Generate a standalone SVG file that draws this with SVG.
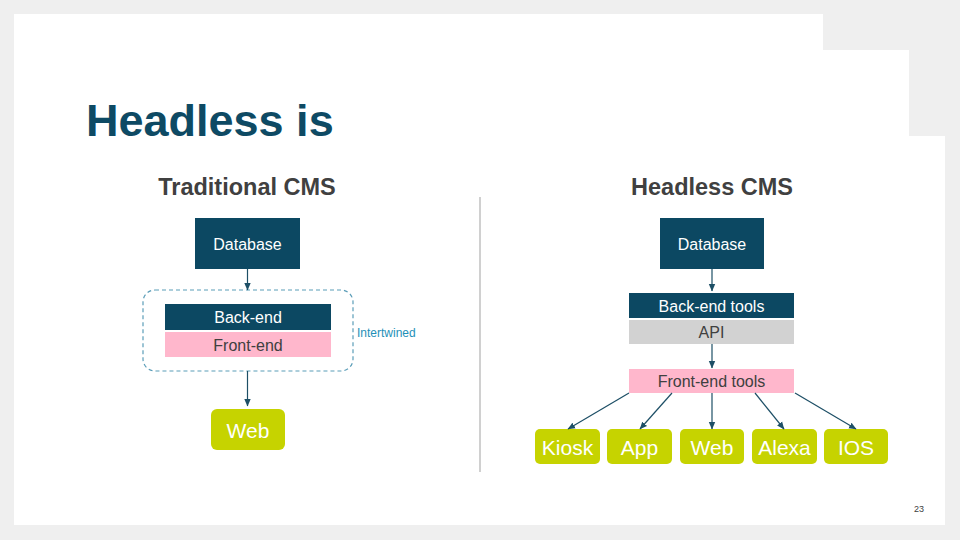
<svg xmlns="http://www.w3.org/2000/svg" width="960" height="540" viewBox="0 0 960 540">
<defs>
<marker id="arr" markerUnits="userSpaceOnUse" markerWidth="8" markerHeight="8" viewBox="0 0 8 8" refX="7" refY="4" orient="auto">
<path d="M0,0.8 L7.5,4 L0,7.2 Z" fill="#1d4f66"/>
</marker>
<style>
.t{font-family:"Liberation Sans",Arial,sans-serif}
.dark{fill:#0c4862}
.pink{fill:#ffb7cc}
.grey{fill:#d2d2d2}
.lime{fill:#c6d300}
.wt{fill:#ffffff;font-size:16px;text-anchor:middle}
.dt{fill:#404040;font-size:16px;text-anchor:middle}
.big{fill:#ffffff;font-size:21px;text-anchor:middle}
.con{stroke:#1d4f66;stroke-width:1.2;fill:none;marker-end:url(#arr)}
.sub{fill:#404040;font-size:23.5px;font-weight:bold;text-anchor:middle}
</style>
</defs>
<rect x="0" y="0" width="960" height="540" fill="#efefef"/>
<path d="M14,14 H823 V50 H909 V136 H945 V525 H14 Z" fill="#ffffff"/>
<text class="t" x="86" y="136" font-size="45" font-weight="bold" fill="#0e4a64">Headless is</text>
<text class="t sub" x="247" y="195">Traditional CMS</text>
<text class="t sub" x="712" y="195">Headless CMS</text>
<line x1="480" y1="197" x2="480" y2="472" stroke="#d0d0d0" stroke-width="2"/>

<g id="trad-database"><rect class="dark" x="195" y="218" width="105" height="51"/><text class="t wt" x="247.5" y="249.5">Database</text></g>
<g id="intertwined"><rect x="143" y="290" width="210" height="81" rx="12" fill="none" stroke="#5b9db8" stroke-width="1.2" stroke-dasharray="4,3"/><text class="t" x="357" y="337" font-size="12" fill="#1f90b8">Intertwined</text></g>
<g id="trad-backend"><rect class="dark" x="165" y="304" width="166" height="26"/><text class="t wt" x="248" y="323">Back-end</text></g>
<g id="trad-frontend"><rect class="pink" x="165" y="332" width="166" height="25"/><text class="t dt" x="248" y="350.5">Front-end</text></g>
<g id="trad-web"><rect class="lime" x="211" y="409" width="74" height="41" rx="6"/><text class="t big" x="248" y="437.5">Web</text></g>

<g id="hl-database"><rect class="dark" x="660" y="218" width="104" height="51"/><text class="t wt" x="712" y="249.5">Database</text></g>
<g id="hl-backend"><rect class="dark" x="629" y="293" width="165" height="25"/><text class="t wt" x="711.5" y="311.5">Back-end tools</text></g>
<g id="hl-api"><rect class="grey" x="629" y="320" width="165" height="24"/><text class="t dt" x="711.5" y="338">API</text></g>
<g id="hl-frontend"><rect class="pink" x="629" y="369" width="165" height="24"/><text class="t dt" x="711.5" y="387">Front-end tools</text></g>
<g id="kiosk"><rect class="lime" x="535" y="429" width="65" height="35" rx="5"/><text class="t big" x="567.5" y="454.5">Kiosk</text></g>
<g id="app"><rect class="lime" x="607" y="429" width="65" height="35" rx="5"/><text class="t big" x="639.5" y="454.5">App</text></g>
<g id="web"><rect class="lime" x="680" y="429" width="64" height="35" rx="5"/><text class="t big" x="712" y="454.5">Web</text></g>
<g id="alexa"><rect class="lime" x="752" y="429" width="65" height="35" rx="5"/><text class="t big" x="784.5" y="454.5">Alexa</text></g>
<g id="ios"><rect class="lime" x="824" y="429" width="64" height="35" rx="5"/><text class="t big" x="856" y="454.5">IOS</text></g>

<g id="connectors">
<line class="con" x1="247.5" y1="269" x2="247.5" y2="290"/>
<line class="con" x1="247.5" y1="371" x2="247.5" y2="406"/>
<line class="con" x1="712" y1="269" x2="712" y2="291"/>
<line class="con" x1="712" y1="344" x2="712" y2="368"/>
<line class="con" x1="629" y1="393" x2="568" y2="429"/>
<line class="con" x1="672" y1="393" x2="640" y2="429"/>
<line class="con" x1="712" y1="393" x2="712" y2="429"/>
<line class="con" x1="755" y1="393" x2="784" y2="429"/>
<line class="con" x1="795" y1="393" x2="856" y2="429"/>
</g>
<text class="t" x="914" y="512" font-size="9" fill="#404040">23</text>
</svg>
